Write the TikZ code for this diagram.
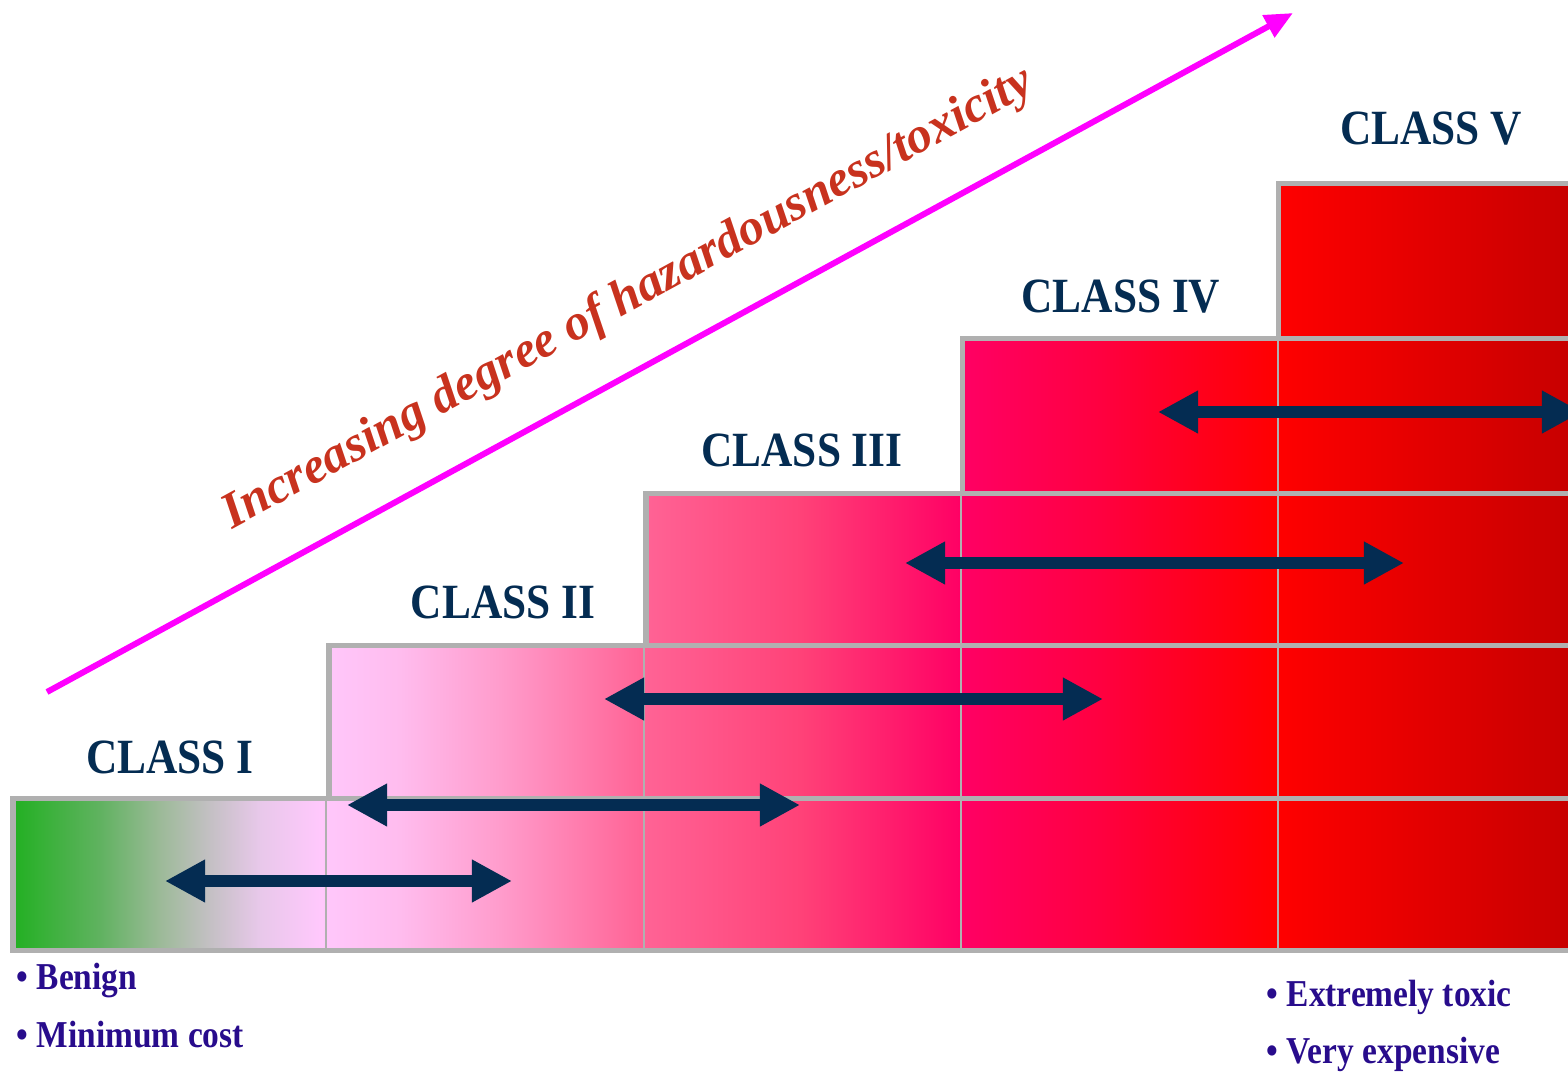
\documentclass[tikz,border=0pt]{standalone}
\usepackage{fontspec}
\setmainfont{Liberation Serif}
\newfontfamily\narrowfont{Liberation Serif}[FakeStretch=0.88]
\usetikzlibrary{arrows.meta}

\definecolor{navy}{RGB}{4,44,82}
\definecolor{indigo}{RGB}{40,12,140}
\definecolor{rust}{RGB}{200,50,30}
\definecolor{pinkline}{RGB}{255,0,255}
\definecolor{edge}{RGB}{176,176,176}
\definecolor{h0}{RGB}{34,176,34}
\definecolor{h1}{RGB}{96,178,96}
\definecolor{h2}{RGB}{156,186,152}
\definecolor{h3}{RGB}{196,192,196}
\definecolor{h4}{RGB}{232,200,234}
\definecolor{h5}{RGB}{255,200,252}
\definecolor{h6}{RGB}{255,188,238}
\definecolor{h7}{RGB}{255,156,204}
\definecolor{h8}{RGB}{255,100,150}
\definecolor{h9}{RGB}{255,66,120}
\definecolor{h10}{RGB}{255,0,100}
\definecolor{h11}{RGB}{255,0,64}
\definecolor{h12}{RGB}{255,0,0}
\definecolor{h13}{RGB}{200,0,0}

\pgfdeclarehorizontalshading{heat}{100bp}{color(0bp)=(h0); color(25bp)=(h0);
  color(27.76bp)=(h1); color(29.66bp)=(h2); color(31.25bp)=(h3); color(32.83bp)=(h4);
  color(34.73bp)=(h5); color(37.27bp)=(h6); color(40.44bp)=(h7); color(44.88bp)=(h8);
  color(49.95bp)=(h9); color(55.06bp)=(h10); color(59.46bp)=(h11); color(65.11bp)=(h12);
  color(74.3bp)=(h13); color(100bp)=(h13)}

\begin{document}
\begin{tikzpicture}[x=0.01cm,y=-0.01cm,
    cls/.style={anchor=base,text=navy,font=\narrowfont\bfseries\fontsize{14}{16}\selectfont},
    bul/.style={anchor=base west,inner sep=0pt,text=indigo,font=\narrowfont\bfseries\fontsize{10.8}{13}\selectfont},
    dbl/.style={navy,line width=0.12cm,{Triangle[length=0.4cm,width=0.4cm]}-{Triangle[length=0.4cm,width=0.4cm]}},
    rise/.style={pinkline,line width=0.06cm,-{Triangle[length=0.28cm,width=0.24cm]}},
    thinline/.style={edge,line width=0.025cm},
    thickline/.style={edge,line width=0.05cm}]
  \useasboundingbox (0,0) rectangle (1568,1072);

  % staircase
  \begin{scope}
    \clip (13,950) -- (13,798) -- (329,798) -- (329,645) -- (646,645) -- (646,493)
      -- (962,493) -- (962,338) -- (1278,338) -- (1278,183) -- (1590,183) -- (1590,950) -- cycle;
    \shade[shading=heat] (13,183) rectangle (1590,950);
  \end{scope}
  \draw [thinline] (326,798) -- (326,950);
  \draw [thinline] (644,645) -- (644,950);
  \draw [thinline] (961,493) -- (961,950);
  \draw [thinline] (1278,338) -- (1278,950);
  \draw [thickline] (1590,950) -- (13,950) -- (13,798) -- (329,798) -- (329,645) -- (646,645) -- (646,493)
      -- (962,493) -- (962,338) -- (1278,338) -- (1278,183) -- (1590,183);
  \draw [thickline] (329,798) -- (1590,798);
  \draw [thickline] (646,645) -- (1590,645);
  \draw [thickline] (962,493) -- (1590,493);
  \draw [thickline] (1278,338) -- (1590,338);

  % class labels
  \node [cls] (C1) at (170,773) {CLASS I};
  \node [cls] (C2) at (503,618) {CLASS II};
  \node [cls] (C3) at (802,466) {CLASS III};
  \node [cls] (C4) at (1121,312) {CLASS IV};
  \node [cls] (C5) at (1431,144) {CLASS V};

  % ranges
  \coordinate (A1) at (165,881);  \coordinate (B1) at (512,881);
  \coordinate (A2) at (347,805);  \coordinate (B2) at (800,805);
  \coordinate (A3) at (604,699);  \coordinate (B3) at (1103,699);
  \coordinate (A4) at (905,563);  \coordinate (B4) at (1404,563);
  \coordinate (A5) at (1158,412); \coordinate (B5) at (1582,412);
  \draw [dbl] (A1) -- (B1);
  \draw [dbl] (A2) -- (B2);
  \draw [dbl] (A3) -- (B3);
  \draw [dbl] (A4) -- (B4);
  \draw [dbl] (A5) -- (B5);

  % hazard axis
  \coordinate (P) at (47,692);
  \coordinate (Q) at (1293,13);
  \draw [rise] (P) -- (Q);
  \node [anchor=base,rotate=28.6,text=rust,font=\bfseries\itshape\fontsize{14.4}{16}\selectfont] (T) at (634,310)
    {Increasing degree of hazardousness/toxicity};

  % notes
  \node [bul] (N1) at (16,989) {• Benign};
  \node [bul] (N2) at (16,1047) {• Minimum cost};
  \node [bul] (N3) at (1266,1006) {• Extremely toxic};
  \node [bul] (N4) at (1266,1063) {• Very expensive};
\end{tikzpicture}
\end{document}
